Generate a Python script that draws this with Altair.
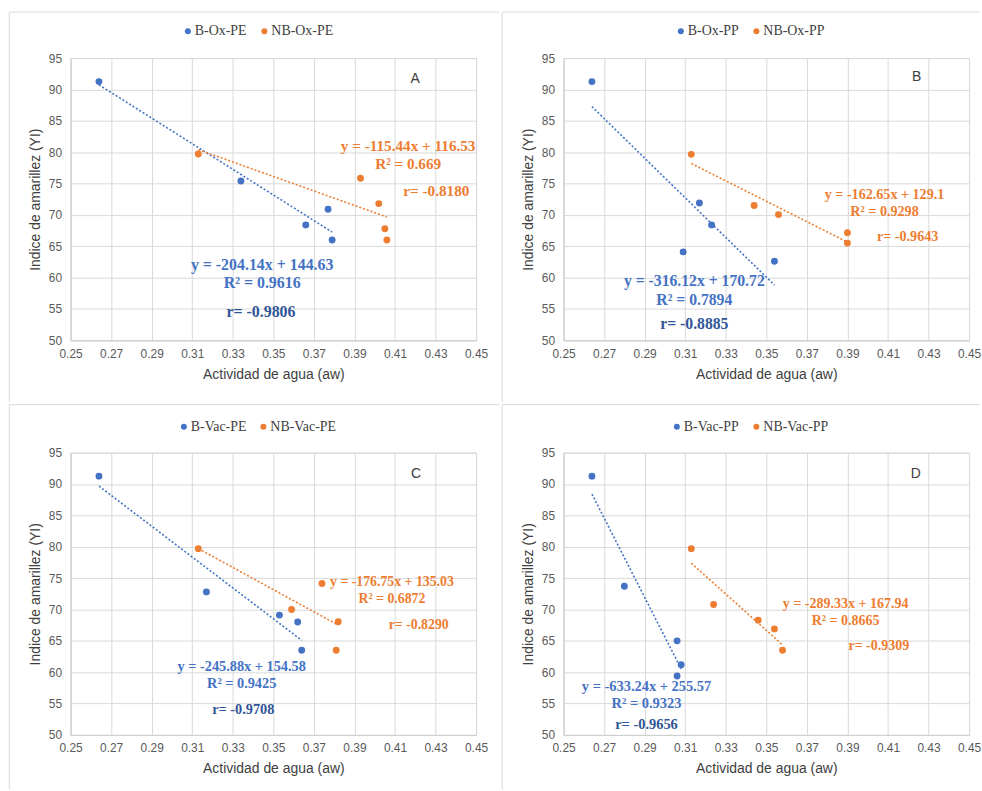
import altair as alt
import pandas as pd

BLUE = "#4472C4"
ORANGE = "#ED7D31"
DARKBLUE = "#2F5597"
GRID = "#d9d9d9"
SERIF = "Liberation Serif"
SANS = "Liberation Sans"

panel_ids = ["A", "B", "C", "D"]
blue_names = ["B-Ox-PE", "B-Ox-PP", "B-Vac-PE", "B-Vac-PP"]
orange_names = ["NB-Ox-PE", "NB-Ox-PP", "NB-Vac-PE", "NB-Vac-PP"]

blue_aw = [
    [0.264, 0.334, 0.366, 0.377, 0.379],
    [0.264, 0.309, 0.317, 0.323, 0.354],
    [0.264, 0.317, 0.353, 0.362, 0.364],
    [0.264, 0.280, 0.306, 0.308, 0.306],
]
blue_yi = [
    [91.25, 75.4, 68.4, 70.9, 66.0],
    [91.25, 64.1, 71.9, 68.4, 62.6],
    [91.25, 72.8, 69.1, 68.0, 63.5],
    [91.25, 73.7, 65.0, 61.2, 59.4],
]
orange_aw = [
    [0.313, 0.393, 0.402, 0.405, 0.406],
    [0.313, 0.344, 0.356, 0.390, 0.390],
    [0.313, 0.359, 0.374, 0.382, 0.381],
    [0.313, 0.324, 0.346, 0.354, 0.358],
]
orange_yi = [
    [79.7, 75.85, 71.8, 67.8, 66.0],
    [79.65, 71.5, 70.05, 67.15, 65.5],
    [79.7, 70.0, 74.15, 68.05, 63.5],
    [79.7, 70.8, 68.3, 66.9, 63.5],
]

blue_slope = [-204.14, -316.12, -245.88, -633.24]
blue_intercept = [144.63, 170.72, 154.58, 255.57]
orange_slope = [-115.44, -162.65, -176.75, -289.33]
orange_intercept = [116.53, 129.1, 135.03, 167.94]
blue_r2 = ["0.9616", "0.7894", "0.9425", "0.9323"]
orange_r2 = ["0.669", "0.9298", "0.6872", "0.8665"]
blue_r = ["-0.9806", "-0.8885", "-0.9708", "-0.9656"]
orange_r = ["-0.8180", "-0.9643", "-0.8290", "-0.9309"]

# annotation anchors (aw, YI)
blue_eq_pos = [(0.3445, 62.0), (0.3145, 59.4), (0.3344, 60.8), (0.2909, 57.65)]
blue_r2_pos = [(0.3445, 59.1), (0.3145, 56.5), (0.3344, 58.1), (0.2909, 54.9)]
blue_r_pos = [(0.3439, 54.5), (0.3145, 52.6), (0.3352, 53.96), (0.2909, 51.6)]
orange_eq_pos = [(0.4165, 81.0), (0.4083, 73.1), (0.4085, 74.4), (0.3891, 70.84)]
orange_r2_pos = [(0.4165, 78.1), (0.4083, 70.5), (0.4085, 71.7), (0.3891, 68.2)]
orange_r_pos = [(0.4304, 73.8), (0.4197, 66.4), (0.4217, 67.5), (0.4055, 64.24)]
letter_pos = [(0.420, 91.7), (0.4241, 92.0), (0.4204, 91.6), (0.4237, 91.6)]

x_ticks = [0.25, 0.27, 0.29, 0.31, 0.33, 0.35, 0.37, 0.39, 0.41, 0.43, 0.45]
y_ticks = [50, 55, 60, 65, 70, 75, 80, 85, 90, 95]

PW, PH = 408, 284

# layout of each panel's chart-area frame and legend (px relative to plot origin),
# plus annotation font sizes
frame = {
    "A": dict(left=-61.7, right=431.3, top=-46.3, bottom=345.7, lx=111, ly=-34, bfs=16, ofs=15.3),
    "B": dict(left=-61.7, right=418.3, top=-46.3, bottom=345.7, lx=111, ly=-34, bfs=15.8, ofs=14.2),
    "C": dict(left=-61.7, right=431.3, top=-48.3, bottom=338.7, lx=107, ly=-33, bfs=14.4, ofs=13.9),
    "D": dict(left=-61.7, right=418.3, top=-48.3, bottom=338.7, lx=107, ly=-33, bfs=14.5, ofs=14.1),
}

x_axis = alt.Axis(values=x_ticks, format=".2f", grid=True, gridColor=GRID, domainColor="#cfcfcf",
                  ticks=False, labelFont=SANS, labelFontSize=12, labelColor="#595959",
                  labelPadding=8, labelFlush=False, labelOverlap=False,
                  title="Actividad de agua (aw)", titleFont=SANS, titleFontSize=14,
                  titleFontWeight="normal", titleColor="#404040", titlePadding=8)
y_axis = alt.Axis(values=y_ticks, grid=True, gridColor=GRID, domainColor="#cfcfcf",
                  ticks=False, labelFont=SANS, labelFontSize=12, labelColor="#595959",
                  labelPadding=9, labelFlush=False, labelOverlap=False,
                  title="Indice de amarillez (YI)", titleFont=SANS, titleFontSize=14,
                  titleFontWeight="normal", titleColor="#404040", titlePadding=6)


def X():
    return alt.X("aw:Q", scale=alt.Scale(domain=[0.25, 0.45], nice=False, zero=False), axis=x_axis)


def Y():
    return alt.Y("yi:Q", scale=alt.Scale(domain=[50, 95], nice=False, zero=False), axis=y_axis)


def make_panel(i):
    pid = panel_ids[i]
    bn, on = blue_names[i], orange_names[i]
    fr = frame[pid]
    pts = pd.DataFrame({
        "aw": blue_aw[i] + orange_aw[i],
        "yi": blue_yi[i] + orange_yi[i],
        "series": [bn] * len(blue_aw[i]) + [on] * len(orange_aw[i]),
    })
    line_rows = []
    for name, col, xs, s, b in [(bn, BLUE, blue_aw[i], blue_slope[i], blue_intercept[i]),
                                (on, ORANGE, orange_aw[i], orange_slope[i], orange_intercept[i])]:
        for xv in (min(xs), max(xs)):
            line_rows.append({"aw": xv, "yi": s * xv + b, "series": name, "col": col})
    lines_df = pd.DataFrame(line_rows)

    cscale = alt.Scale(domain=[bn, on], range=[BLUE, ORANGE])
    legend = alt.Legend(orient="none", legendX=fr["lx"], legendY=fr["ly"], direction="horizontal",
                        title=None, labelFont=SERIF, labelFontSize=14, labelColor="#404040",
                        symbolType="circle", symbolSize=36, symbolStrokeWidth=0, columnPadding=10,
                        labelOffset=0, padding=0)

    box = alt.Chart(pd.DataFrame({"k": [0]})).mark_rect(opacity=0, strokeWidth=0).encode(
        x=alt.value(fr["left"]), x2=alt.value(fr["right"]), y=alt.value(fr["top"]), y2=alt.value(fr["bottom"]))
    top_rule = alt.Chart(pd.DataFrame({"k": [0]})).mark_rule(color=GRID, strokeWidth=1).encode(
        x=alt.value(fr["left"]), x2=alt.value(fr["right"]), y=alt.value(fr["top"]))
    left_rule = alt.Chart(pd.DataFrame({"k": [0]})).mark_rule(color=GRID, strokeWidth=1).encode(
        x=alt.value(fr["left"]), y=alt.value(fr["top"]), y2=alt.value(fr["bottom"]))

    trend = alt.Chart(lines_df).mark_line(strokeDash=[2, 2], strokeWidth=1.6).encode(
        x=X(), y=Y(), stroke=alt.Stroke("col:N", scale=None), detail="series:N")
    points = alt.Chart(pts).mark_circle(size=48, opacity=1).encode(
        x=X(), y=Y(), color=alt.Color("series:N", scale=cscale, legend=legend))

    text_groups = [
        (BLUE, fr["bfs"], [(blue_eq_pos[i], f"y = {blue_slope[i]}x + {blue_intercept[i]}"),
                           (blue_r2_pos[i], f"R² = {blue_r2[i]}")]),
        (DARKBLUE, fr["bfs"], [(blue_r_pos[i], f"r= {blue_r[i]}")]),
        (ORANGE, fr["ofs"], [(orange_eq_pos[i], f"y = {orange_slope[i]}x + {orange_intercept[i]}"),
                             (orange_r2_pos[i], f"R² = {orange_r2[i]}"),
                             (orange_r_pos[i], f"r= {orange_r[i]}")]),
    ]
    text_layers = []
    for col, fs, items in text_groups:
        df = pd.DataFrame({"aw": [p[0][0] for p in items], "yi": [p[0][1] for p in items],
                           "label": [p[1] for p in items]})
        text_layers.append(
            alt.Chart(df).mark_text(font=SERIF, fontSize=fs, fontWeight="bold", color=col).encode(
                x=X(), y=Y(), text="label:N"))
    letter_df = pd.DataFrame({"aw": [letter_pos[i][0]], "yi": [letter_pos[i][1]], "label": [pid]})
    letter = alt.Chart(letter_df).mark_text(font=SANS, fontSize=14, color="#404040").encode(
        x=X(), y=Y(), text="label:N")

    return alt.layer(box, top_rule, left_rule, trend, points, *text_layers, letter).properties(
        width=PW, height=PH)


panels = [make_panel(i) for i in range(4)]
row1 = alt.hconcat(panels[0], panels[1], spacing=0).resolve_scale(color="independent").resolve_legend(color="independent")
row2 = alt.hconcat(panels[2], panels[3], spacing=0).resolve_scale(color="independent").resolve_legend(color="independent")
chart = alt.vconcat(row1, row2, spacing=0).resolve_scale(color="independent").resolve_legend(
    color="independent").properties(
    padding={"left": 8, "top": 8, "right": 0, "bottom": 0}, background="white"
).configure_view(stroke=GRID)

chart.save("out.html", embed_options={"renderer": "svg", "actions": False})
